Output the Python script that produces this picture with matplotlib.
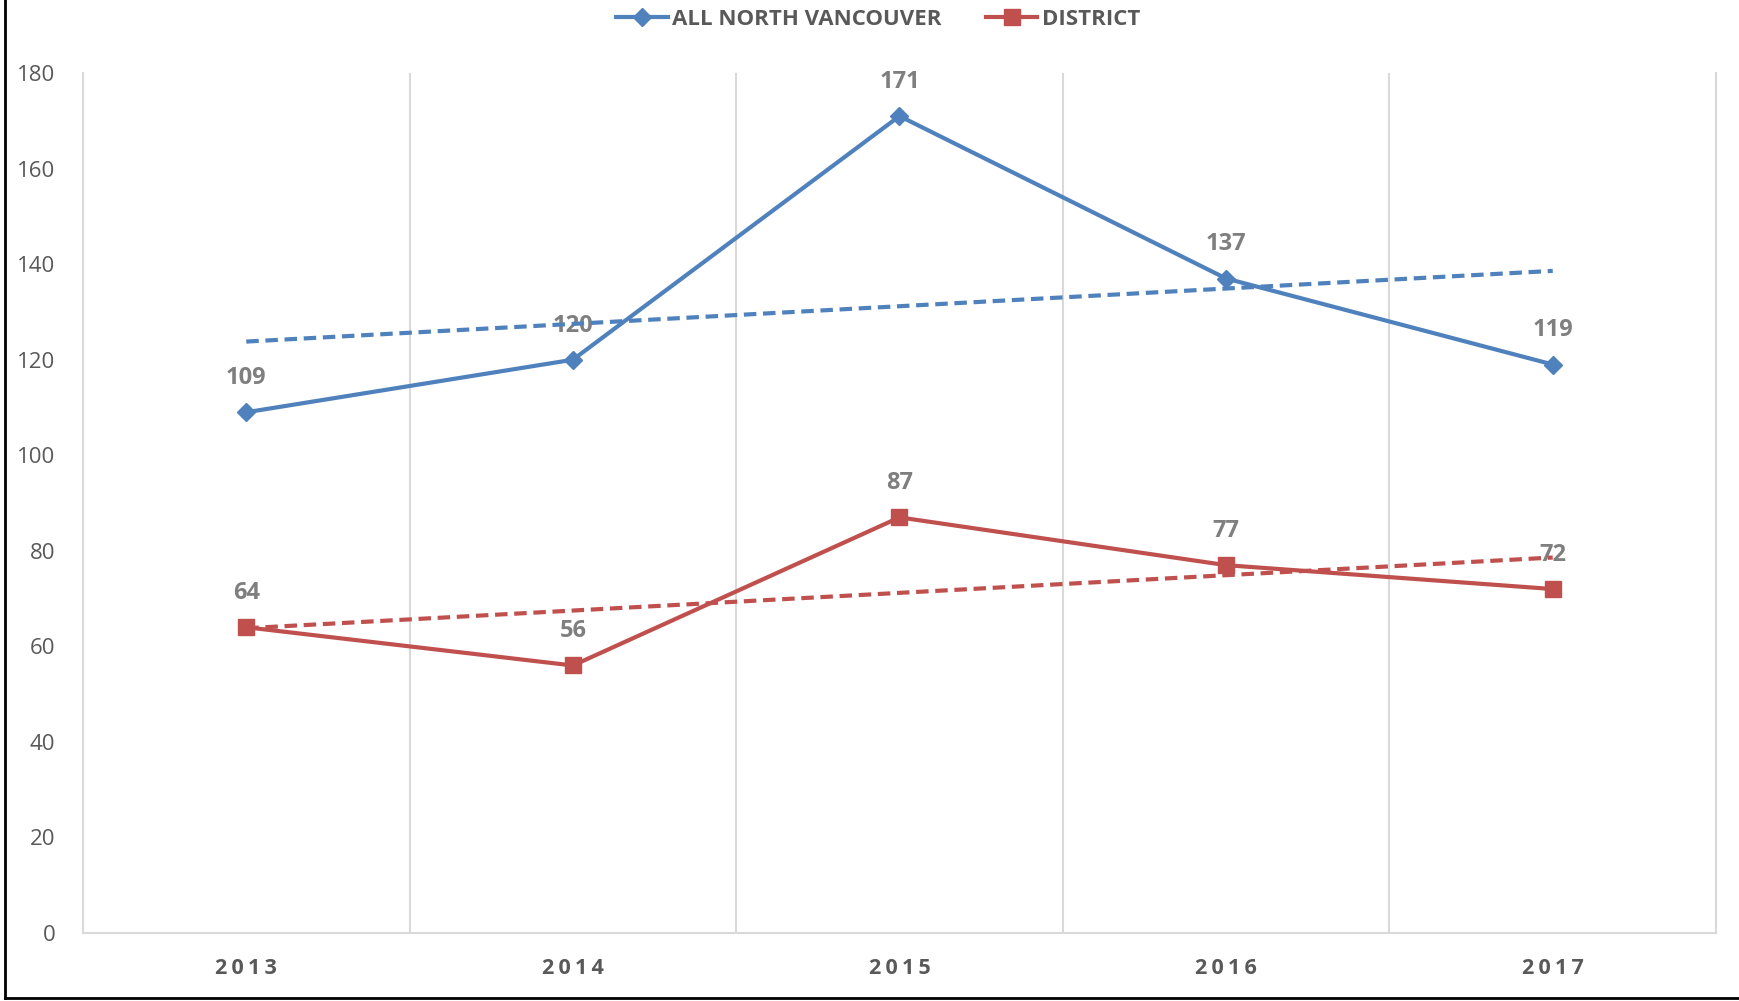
import numpy as np
import matplotlib.pyplot as plt
from matplotlib.lines import Line2D

"""data"""

years   = ['2013', '2014', '2015', '2016', '2017']
all_nv  = [109, 120, 171, 137, 119]
dist    = [64, 56, 87, 77, 72]
yticks  = [0, 20, 40, 60, 80, 100, 120, 140, 160, 180]

blue = '#4F81BD'
red  = '#C0504D'

plt.rcParams['font.family'] = ['Open Sans', 'DejaVu Sans']

"""plot"""

fig = plt.figure(figsize=(17.39, 10.01), dpi=100)
ax = fig.add_axes([0.0477, 0.0679, 0.9391, 0.8591])

x = np.arange(len(years))

ax.plot(x, all_nv, color=blue, lw=3, marker='D', ms=9, label='ALL NORTH VANCOUVER', zorder=3)
ax.plot(x, dist, color=red, lw=3, marker='s', ms=11, label='DISTRICT', zorder=3)

for xi, v in zip(x, all_nv):
    ax.annotate(str(v), (xi, v), xytext=(0, 16), textcoords='offset points',
                ha='center', va='bottom', fontsize=17, fontweight='bold', color='#7F7F7F', zorder=4)
for xi, v in zip(x, dist):
    ax.annotate(str(v), (xi, v), xytext=(0, 16), textcoords='offset points',
                ha='center', va='bottom', fontsize=17, fontweight='bold', color='#7F7F7F', zorder=4)

# linear trendlines
for series, c in [(all_nv, blue), (dist, red)]:
    k, b = np.polyfit(x, series, 1)
    ax.plot(x, k * x + b, color=c, lw=3, ls=(0, (3, 1.6)), zorder=5)

"""detail"""

ax.set_xlim(-0.5, len(years) - 0.5)
ax.set_ylim(0, 180)
ax.set_yticks(yticks)
ax.set_yticklabels([str(t) for t in yticks], fontsize=16, color='#595959')
ax.set_xticks(x)
ax.set_xticklabels(['\u2009'.join(y) for y in years], fontsize=15.5, fontweight='bold', color='#595959')
ax.tick_params(axis='both', length=0)
ax.tick_params(axis='y', pad=20)
ax.tick_params(axis='x', pad=18)

for xv in np.arange(0.5, len(years) - 0.5, 1.0):
    ax.axvline(xv, color='#D9D9D9', lw=1.5, zorder=1)

ax.spines['top'].set_visible(False)
for s in ['left', 'right', 'bottom']:
    ax.spines[s].set_color('#D9D9D9')
    ax.spines[s].set_linewidth(1.5)

leg = ax.legend(loc='center', bbox_to_anchor=(0.505, 0.981), bbox_transform=fig.transFigure,
                ncol=2, frameon=False, handlelength=2.3, columnspacing=2.0,
                handletextpad=0.2, prop={'family': 'Open Sans', 'weight': 'bold', 'size': 16})
for t in leg.get_texts():
    t.set_color('#595959')

# outer border (left and bottom)
fig.add_artist(Line2D([0.003, 0.003], [0.003, 1.0], color='black', lw=2, transform=fig.transFigure))
fig.add_artist(Line2D([0.003, 1.0], [0.003, 0.003], color='black', lw=2, transform=fig.transFigure))

"""save"""

plt.savefig('out.png', dpi=100)
